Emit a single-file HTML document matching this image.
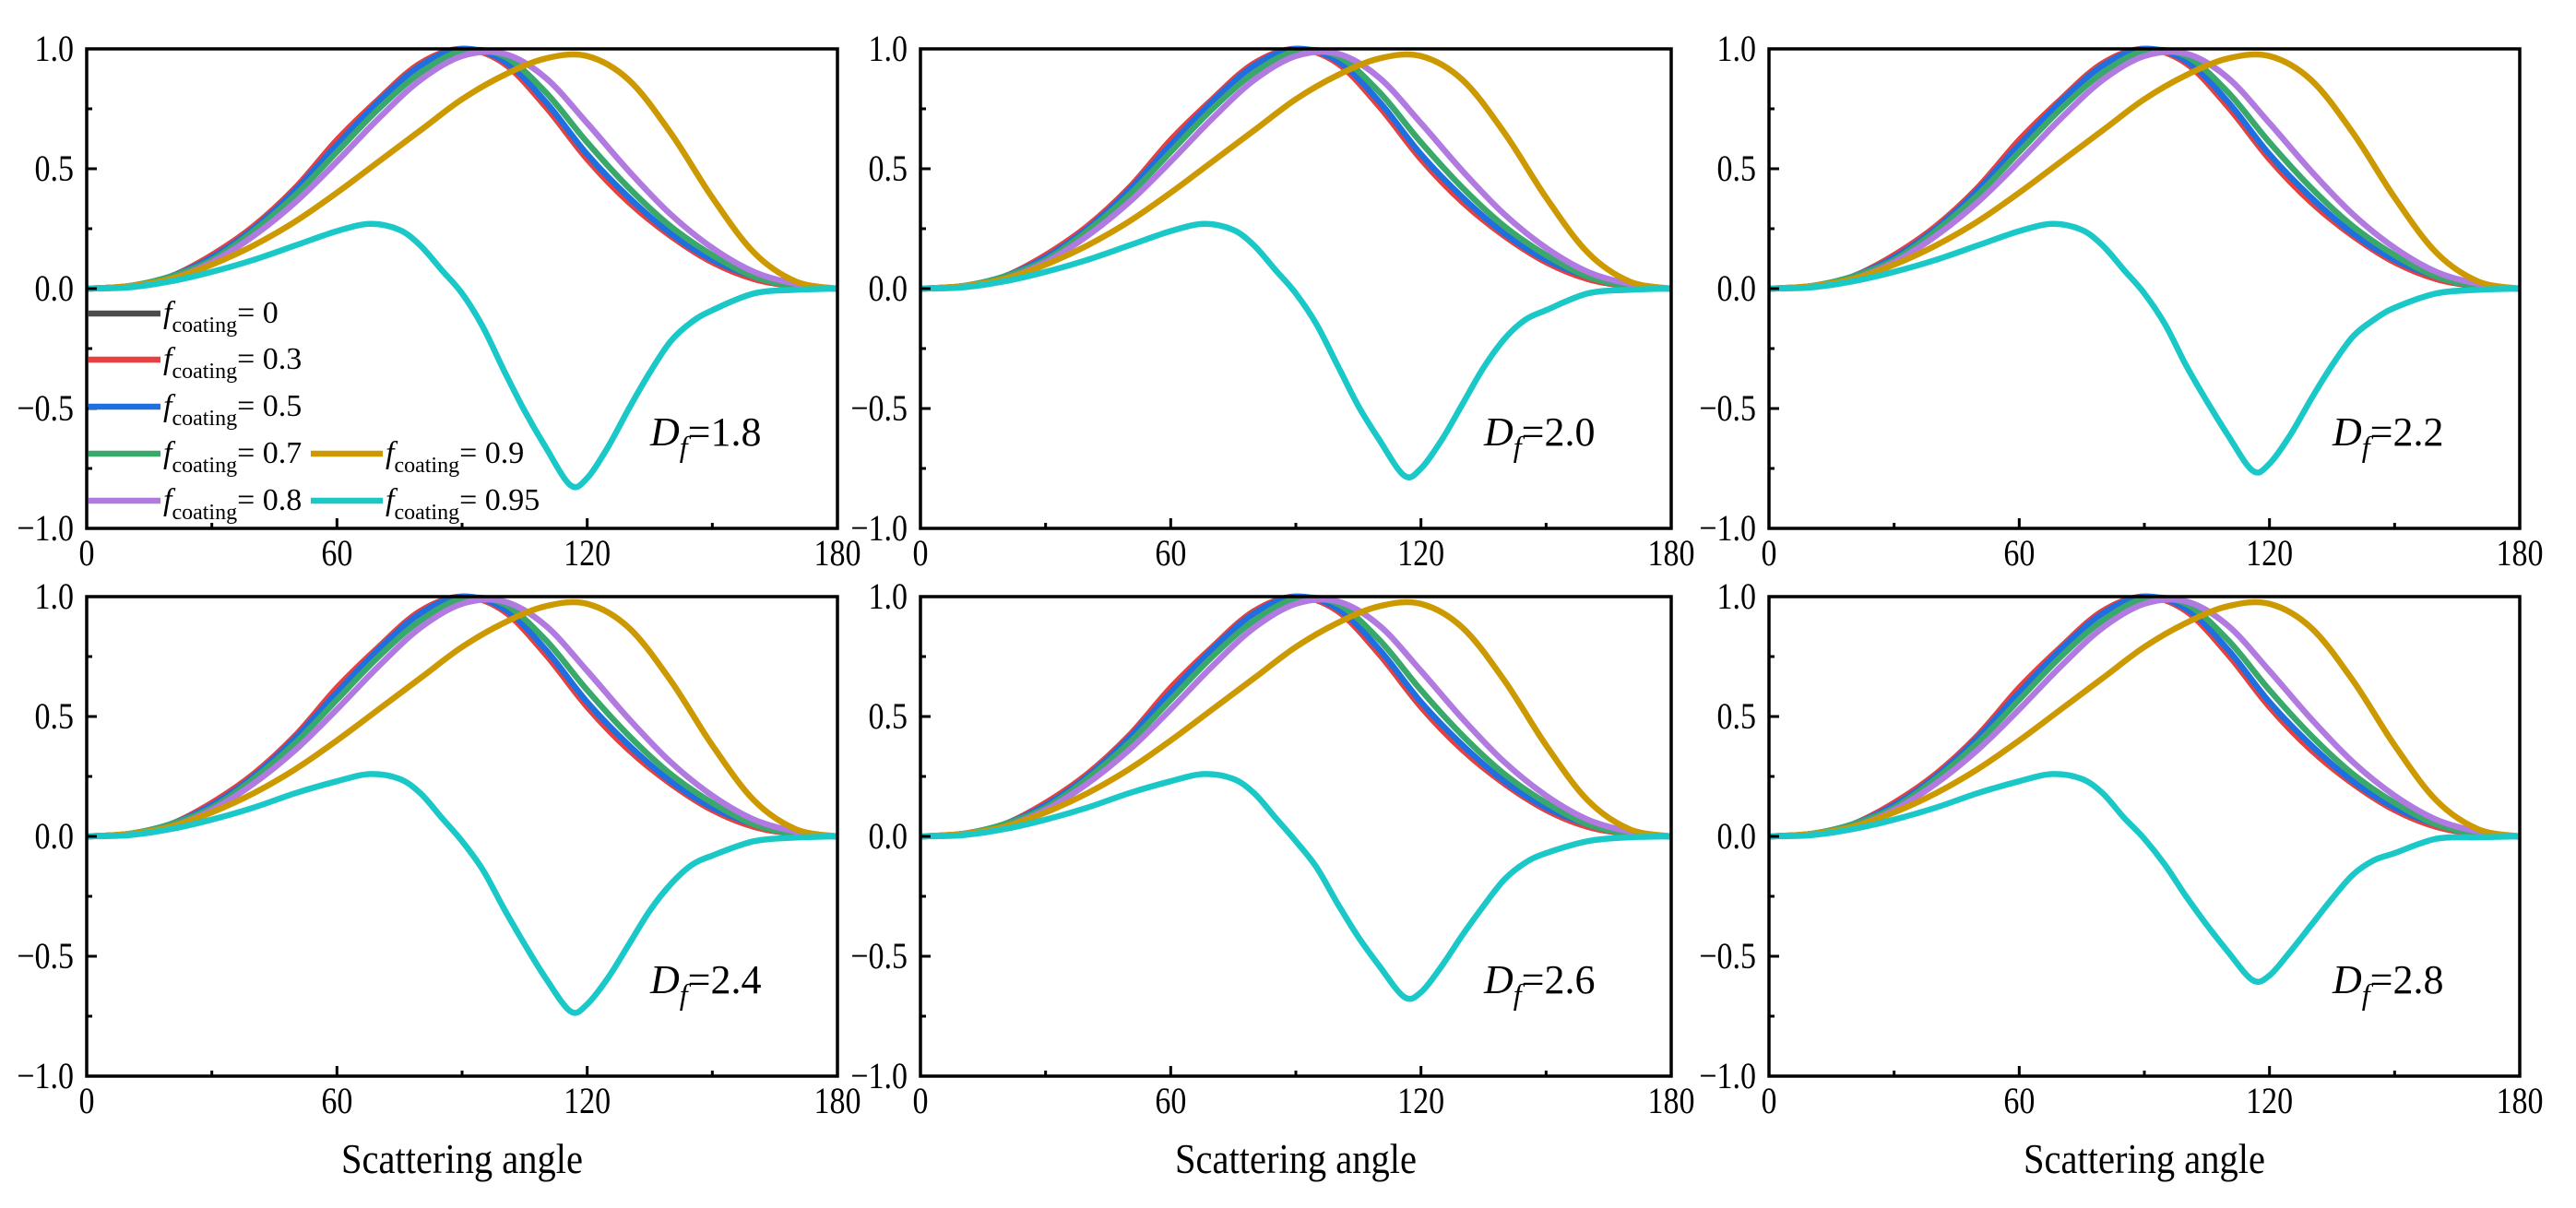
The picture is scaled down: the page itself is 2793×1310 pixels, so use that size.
<!DOCTYPE html>
<html><head><meta charset="utf-8"><style>
html,body{margin:0;padding:0;background:#fff;}
svg{display:block;font-family:"Liberation Serif",serif;}
</style></head><body>
<svg id="chart" width="2793" height="1310" viewBox="0 0 2793 1310" xmlns="http://www.w3.org/2000/svg"></svg>
<script>
const xAngles=[0,10,20,30,40,50,60,70,80,90,100,110,120,130,140,150,160,170,180];
const f0=[0,0.01,0.05,0.14,0.26,0.42,0.62,0.79,0.94,1.0,0.94,0.76,0.54,0.36,0.22,0.11,0.04,0.01,0];
const f03=[0,0.01,0.05,0.14,0.26,0.42,0.62,0.79,0.94,1.0,0.94,0.76,0.54,0.36,0.22,0.11,0.04,0.01,0];
const f05=[0,0.01,0.05,0.13,0.25,0.41,0.60,0.78,0.93,1.0,0.95,0.78,0.56,0.38,0.23,0.12,0.05,0.01,0];
const f07=[0,0.01,0.05,0.12,0.24,0.39,0.57,0.75,0.90,0.99,0.97,0.82,0.61,0.42,0.26,0.14,0.05,0.01,0];
const f08=[0,0.01,0.04,0.11,0.22,0.36,0.53,0.71,0.87,0.97,0.98,0.88,0.69,0.49,0.31,0.17,0.07,0.02,0];
const f09=[0,0.01,0.04,0.10,0.18,0.28,0.40,0.53,0.66,0.79,0.89,0.96,0.97,0.87,0.65,0.38,0.15,0.03,0];
const xCyan=[0,10,20,30,40,50,60,68,75,80,85,90,95,100,105,110,116,120,125,130,135,140,145,150,160,170,180];
const cyan18=[0,0.005,0.03,0.07,0.12,0.18,0.24,0.27,0.245,0.18,0.08,-0.02,-0.16,-0.34,-0.51,-0.66,-0.82,-0.79,-0.66,-0.50,-0.35,-0.22,-0.14,-0.09,-0.02,-0.005,0];
const cyan20=[0,0.005,0.03,0.07,0.12,0.18,0.24,0.27,0.245,0.18,0.08,-0.02,-0.15,-0.32,-0.49,-0.63,-0.78,-0.75,-0.63,-0.48,-0.33,-0.21,-0.13,-0.09,-0.02,-0.005,0];
const cyan22=[0,0.005,0.03,0.07,0.12,0.18,0.24,0.27,0.245,0.18,0.08,-0.02,-0.15,-0.32,-0.47,-0.61,-0.76,-0.73,-0.61,-0.46,-0.32,-0.20,-0.13,-0.08,-0.02,-0.005,0];
const cyan24=[0,0.005,0.03,0.07,0.12,0.18,0.23,0.26,0.24,0.18,0.08,-0.02,-0.14,-0.30,-0.45,-0.59,-0.73,-0.70,-0.59,-0.45,-0.31,-0.20,-0.12,-0.08,-0.02,-0.005,0];
const cyan26=[0,0.005,0.03,0.07,0.12,0.18,0.23,0.26,0.24,0.18,0.08,-0.02,-0.13,-0.28,-0.42,-0.54,-0.67,-0.65,-0.54,-0.41,-0.29,-0.18,-0.11,-0.07,-0.02,-0.004,0];
const cyan28=[0,0.005,0.03,0.07,0.12,0.18,0.23,0.26,0.24,0.18,0.08,-0.01,-0.12,-0.25,-0.37,-0.48,-0.60,-0.58,-0.48,-0.37,-0.26,-0.16,-0.10,-0.07,-0.01,-0.004,0];
const dfLabels=["1.8","2.0","2.2","2.4","2.6","2.8"];
const cyanSets=[cyan18,cyan20,cyan22,cyan24,cyan26,cyan28];
const xTicks=[0,60,120,180];
const xMinor=[30,90,150];
const yTicks=[-1.0,-0.5,0.0,0.5,1.0];
const yTickLabels=["\u22121.0","\u22120.5","0.0","0.5","1.0"];
const yMinor=[-0.75,-0.25,0.25,0.75];

const NS="http://www.w3.org/2000/svg";
const svg=document.getElementById('chart');
function mk(tag,attrs,parent){const e=document.createElementNS(NS,tag);for(const k in attrs)e.setAttribute(k,attrs[k]);(parent||svg).appendChild(e);return e;}
function txt(x,y,size,anchor,parent,sc){return mk('text',{transform:'translate('+x+','+y+') scale('+(sc||0.85)+',1)','font-size':size,'text-anchor':anchor||'start'},parent);}
const lefts=[94,998,1918], tops=[53,647];
const PW=814, PH=520;
const colors=["#4d4d4d","#e84040","#1f6fe0","#3aa86b","#b07ae0","#cc9900","#1ac8c8"];
const seriesNames=["f-0","f-0.3","f-0.5","f-0.7","f-0.8","f-0.9","f-0.95"];
function pathFrom(xs,ys,sx,sy){
  const P=xs.map((x,i)=>[sx(x),sy(ys[i])]);
  let d="M"+P[0][0].toFixed(1)+","+P[0][1].toFixed(1);
  for(let i=0;i<P.length-1;i++){
    const p0=P[Math.max(0,i-1)],p1=P[i],p2=P[i+1],p3=P[Math.min(P.length-1,i+2)];
    const c1=[p1[0]+(p2[0]-p0[0])/6,p1[1]+(p2[1]-p0[1])/6];
    const c2=[p2[0]-(p3[0]-p1[0])/6,p2[1]-(p3[1]-p1[1])/6];
    d+=" C"+c1[0].toFixed(1)+","+c1[1].toFixed(1)+" "+c2[0].toFixed(1)+","+c2[1].toFixed(1)+" "+p2[0].toFixed(1)+","+p2[1].toFixed(1);
  }
  return d;
}
for(let p=0;p<6;p++){
  const L=lefts[p%3], T=tops[Math.floor(p/3)];
  const sx=v=>L+v/180*PW, sy=v=>T+(1-v)/2*PH;
  const g=mk('g',{});
  
  
  const clipId='clip'+p;
  const cp=mk('clipPath',{id:clipId},g);
  mk('rect',{x:L,y:T-5,width:PW,height:PH+10},cp);
  const lines=mk('g',{'clip-path':'url(#'+clipId+')'},g);
  const sets=[f0,f03,f05,f07,f08,f09];
  sets.forEach((ys,i)=>{
    const pa=mk('path',{d:pathFrom(xAngles,ys,sx,sy),fill:'none',stroke:colors[i],'stroke-width':6.5,'stroke-linejoin':'round'},lines);
    
    
  });
  const pc=mk('path',{d:pathFrom(xCyan,cyanSets[p],sx,sy),fill:'none',stroke:colors[6],'stroke-width':6.5,'stroke-linejoin':'round'},lines);
  
  
  const fr=mk('rect',{x:L,y:T,width:PW,height:PH,fill:'none',stroke:'#000','stroke-width':3.5},g);
  
  
  xTicks.forEach(v=>{
    mk('line',{x1:sx(v),x2:sx(v),y1:T+PH,y2:T+PH-11,stroke:'#000','stroke-width':3},g);
    const t=txt(sx(v),T+PH+40,40,'middle',g);
    t.textContent=v;
    
    
  });
  xMinor.forEach(v=>mk('line',{x1:sx(v),x2:sx(v),y1:T+PH,y2:T+PH-6,stroke:'#000','stroke-width':3},g));
  yTicks.forEach((v,i)=>{
    mk('line',{x1:L,x2:L+11,y1:sy(v),y2:sy(v),stroke:'#000','stroke-width':3},g);
    const t=txt(L-14,sy(v)+13,40,'end',g);
    t.textContent=yTickLabels[i];
    
    
  });
  yMinor.forEach(v=>mk('line',{x1:L,x2:L+6,y1:sy(v),y2:sy(v),stroke:'#000','stroke-width':3},g));
  const df=txt(L+611,T+430,44,'start',g,1);
  df.innerHTML='<tspan font-style="italic">D</tspan><tspan font-style="italic" font-size="32" dy="12">f</tspan><tspan dy="-12">=</tspan>'+dfLabels[p];
  
  
  if(p>=3){
    const xl=txt(L+PW/2,1272,45,'middle',g,0.9);
    xl.textContent='Scattering angle';
    
    
  }
}
// legend in first panel
const legVals=["0","0.3","0.5","0.7","0.8","0.9","0.95"];
const legPos=[[96,340],[96,390],[96,441],[96,492],[96,543],[337,492],[337,543]];
const lg=mk('g',{});


legVals.forEach((v,i)=>{
  const [x,y]=legPos[i];
  const e=mk('g',{},lg);
  
  
  mk('line',{x1:x,x2:x+78,y1:y,y2:y,stroke:colors[i],'stroke-width':6.5},e);
  const t=txt(x+81,y+10,34,'start',e,1);
  t.innerHTML='<tspan font-style="italic">f</tspan><tspan font-size="24" dy="10">coating</tspan><tspan dy="-10">= '+v+'</tspan>';
});
</script>
</body></html>
